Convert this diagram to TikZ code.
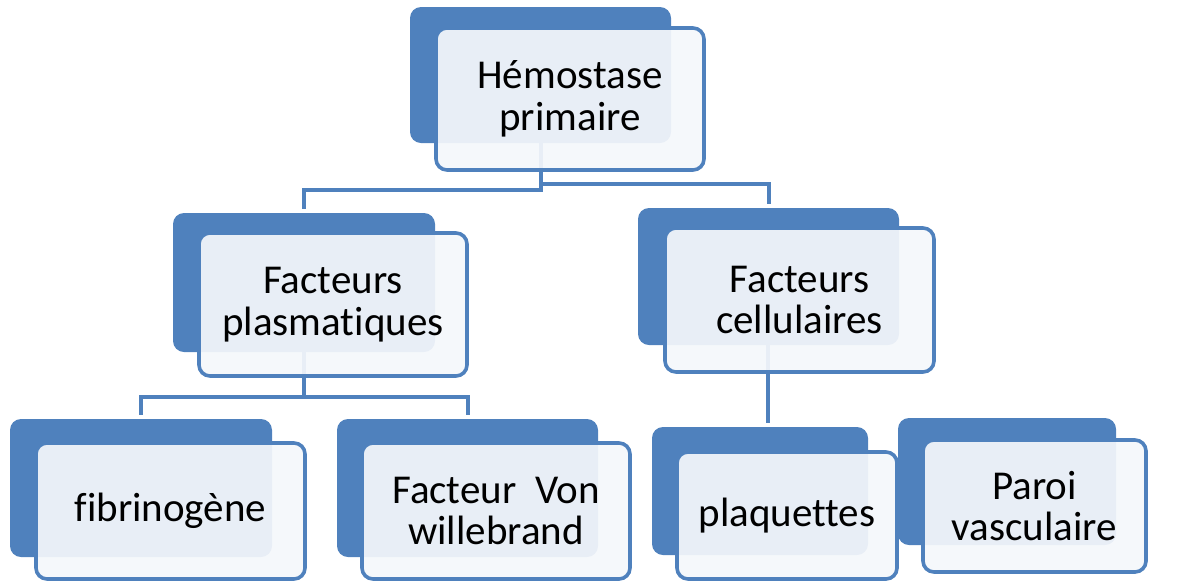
\documentclass[tikz,border=0pt]{standalone}
\usepackage{fontspec}
\setmainfont{Carlito}[Ligatures={NoCommon,NoContextual}]
\definecolor{accent}{RGB}{79,129,189}
\definecolor{frontfill}{RGB}{244,247,251}
\tikzset{
  backbox/.style={fill=accent, draw=none, rounded corners=11pt, inner sep=0pt},
  frontbox/.style={fill=frontfill, fill opacity=0.93, text opacity=1, draw=accent, line width=3.6pt, rounded corners=11pt, inner sep=0pt, align=center, font=\fontsize{41}{41.5}\selectfont, text=black},
  link/.style={draw=accent, line width=4pt, shorten >=4pt}
}
\begin{document}
\begin{tikzpicture}[x=1pt,y=-1pt]
\useasboundingbox (0,0) rectangle (1185,582);
% back boxes
\node[backbox, minimum width=261pt, minimum height=136pt] (hemB) at (540.5,75) {};
\node[backbox, minimum width=262pt, minimum height=139pt] (plaB) at (304,282.5) {};
\node[backbox, minimum width=261pt, minimum height=137pt] (celB) at (768.5,276.5) {};
\node[backbox, minimum width=262pt, minimum height=138pt] (fibB) at (141,488) {};
\node[backbox, minimum width=261pt, minimum height=138pt] (vonB) at (467.5,488) {};
\node[backbox, minimum width=216pt, minimum height=128pt] (plqB) at (760,491) {};
\node[backbox, minimum width=218pt, minimum height=127pt] (parB) at (1007,481.5) {};
% junctions
\coordinate (jl) at (540,190);
\coordinate (jr) at (540,184);
\coordinate (jp) at (303,397);
% connectors
\draw[link] (hemB.south) -- (hemB.south |- jl) -| (plaB.north);
\draw[link] (hemB.south) -- (hemB.south |- jr) -| (celB.north);
\draw[link] (plaB.south) -- (plaB.south |- jp) -| (fibB.north);
\draw[link] (plaB.south) -- (plaB.south |- jp) -| (vonB.north);
\draw[link] ([xshift=-1pt]celB.south) -- ([xshift=-1pt]celB.south |- plqB.north);
% front boxes
\node[frontbox, minimum width=268pt, minimum height=142pt] (hemF) at (570,99) {Hémostase\\primaire};
\node[frontbox, minimum width=268pt, minimum height=143pt] (plaF) at (333,304.5) {Facteurs\\plasmatiques};
\node[frontbox, minimum width=269pt, minimum height=144pt] (celF) at (799.5,300) {Facteurs\\cellulaires};
\node[frontbox, minimum width=269pt, minimum height=136pt] (fibF) at (170.5,511) {fibrinogène};
\node[frontbox, minimum width=268pt, minimum height=136pt] (vonF) at (496,511) {Facteur~~Von\\willebrand};
\node[frontbox, minimum width=220pt, minimum height=127pt] (plqF) at (787,515.5) {plaquettes};
\node[frontbox, minimum width=223pt, minimum height=132pt] (parF) at (1034.5,506) {Paroi\\vasculaire};
\end{tikzpicture}
\end{document}
